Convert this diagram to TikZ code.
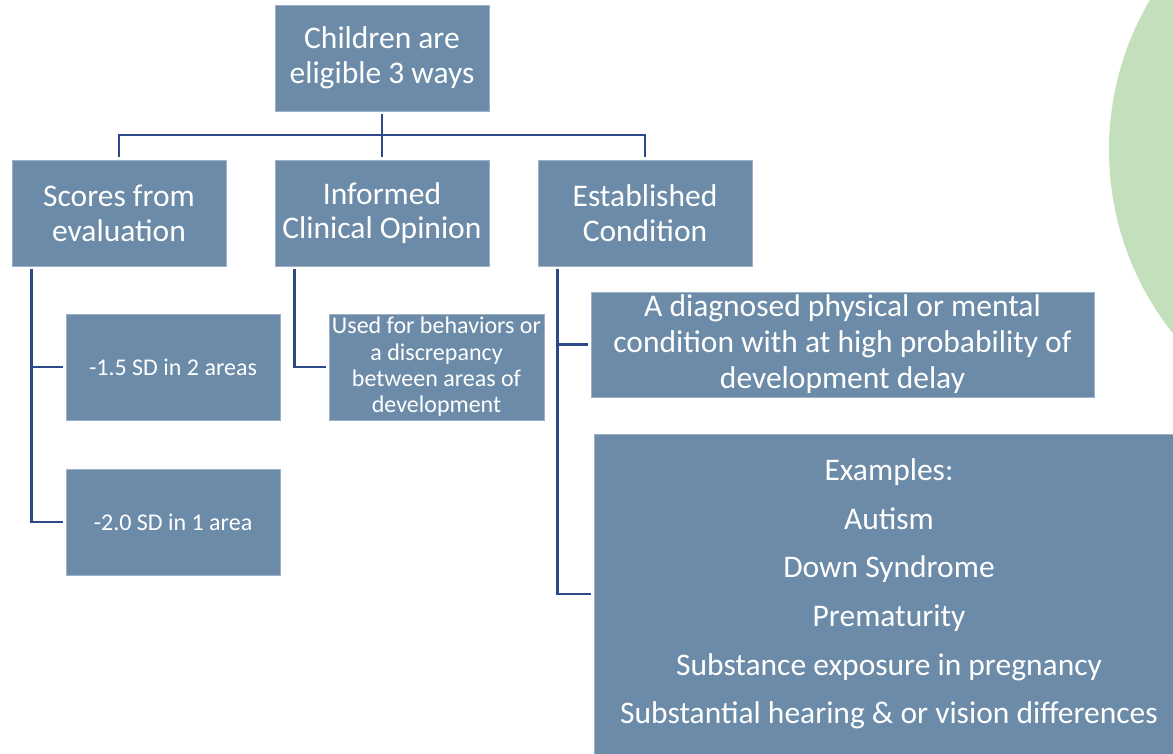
\documentclass[tikz,border=0pt]{standalone}
\usepackage{fontspec}
\setmainfont{Carlito}
\usetikzlibrary{positioning}
\definecolor{boxfill}{HTML}{6C8BA8}
\definecolor{boxedge}{HTML}{9DB2C7}
\definecolor{connblue}{HTML}{2C4A8A}
\definecolor{bggreen}{HTML}{C4DFBB}

\begin{document}
\begin{tikzpicture}[
  x=1pt, y=-1pt,
  box/.style={rectangle, fill=boxfill, draw=boxedge, line width=0.8pt, text=white, align=center, inner sep=0pt, minimum width=214pt, minimum height=106pt, font=\fontsize{31.5}{34.7}\selectfont},
  smallbox/.style={box, font=\fontsize{24}{26.3}\selectfont},
  conn/.style={draw=connblue, line width=2.7pt, shorten <=3pt, shorten >=3pt},
]
\useasboundingbox (0,0) rectangle (1173,753);

% Background circle
\fill[bggreen] (1404,150) circle (295pt);

% Top level
\node[box] (root) at (382,58) {Children are\\eligible 3 ways};
\coordinate (bus) at (382,135);

% Three ways
\node[box] (scores) at (119,213) {Scores from\\evaluation};
\node[box] (opinion) at (382,213) {Informed\\Clinical Opinion};
\node[box] (established) at (645,213) {Established\\Condition};

% Details
\node[smallbox] (sd15) at (173,367) {-1.5 SD in 2 areas};
\node[smallbox] (sd20) at (173,522) {-2.0 SD in 1 area};
\node[smallbox, minimum width=215pt] (behav) at (436.5,367) {Used for behaviors or\\a discrepancy\\between areas of\\development};
\node[box, minimum width=503pt, minimum height=105pt, font=\fontsize{31.5}{36}\selectfont] (diag) at (842.5,344.5) {A diagnosed physical or mental\\condition with at high probability of\\development delay};
\node[box, minimum width=590pt, minimum height=320pt, font=\fontsize{31.5}{48.7}\selectfont] (examples) at (889,594) {Examples:\\Autism\\Down Syndrome\\Prematurity\\Substance exposure in pregnancy\\Substantial hearing \& or vision differences};

% Connectors
\draw[conn] (root.south) -- (opinion.north);
\draw[conn] (scores.north) |- (bus) -| (established.north);
\draw[conn] (scores.south west) ++(20,0) |- (sd15.west);
\draw[conn] (scores.south west) ++(20,0) |- (sd20.west);
\draw[conn] (opinion.south west) ++(20,0) |- (behav.west);
\draw[conn] (established.south west) ++(20,0) |- (diag.west);
\draw[conn] (established.south west) ++(20,0) |- (examples.west);

\end{tikzpicture}
\end{document}
